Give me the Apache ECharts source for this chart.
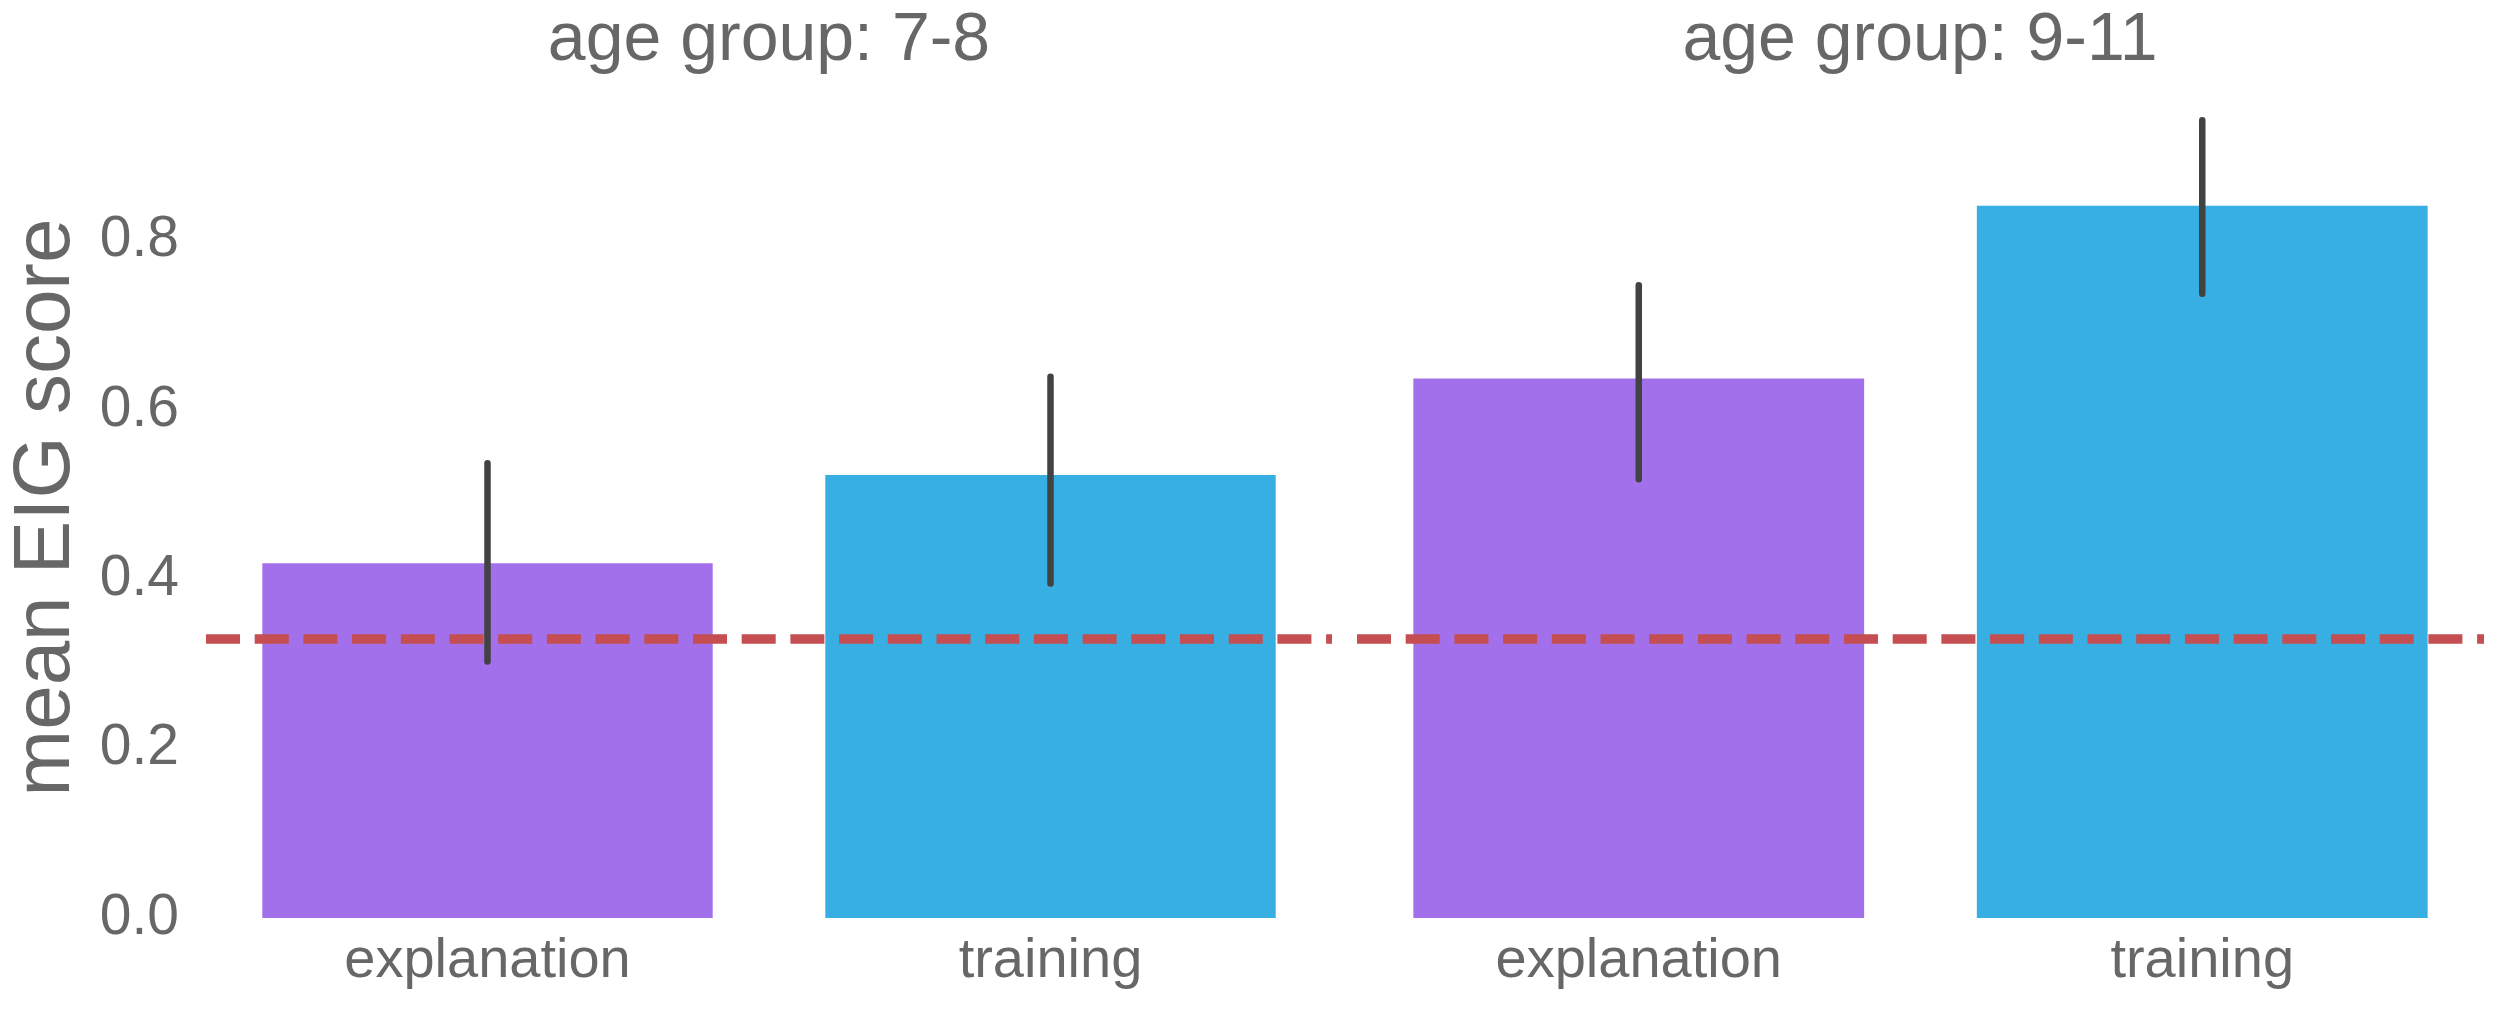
<!DOCTYPE html>
<html>
<head>
<meta charset="utf-8">
<script src="https://cdn.jsdelivr.net/npm/echarts@6/dist/echarts.min.js"></script>
<style>
  html, body { margin: 0; padding: 0; background: #ffffff; }
  #chart { width: 2500px; height: 1011px; }
</style>
</head>
<body>
<div id="chart"></div>
<script>
// ---- data ----
const categories = ["explanation", "training"];
const groupTitles = ["age group: 7-8", "age group: 9-11"];
const means_7_8 = [0.419, 0.523];
const means_9_11 = [0.637, 0.841];
const ciLow_7_8 = [0.303, 0.395];
const ciHigh_7_8 = [0.537, 0.639];
const ciLow_9_11 = [0.518, 0.737];
const ciHigh_9_11 = [0.747, 0.942];
const chanceLevel = 1 / 3;
const yTicks = [0, 0.2, 0.4, 0.6, 0.8];
const yMax = 0.9694;

// ---- styles ----
const barColors = ["#A370EB", "#37AFE2"];
const textColor = "#676767";
const fontFamily = "'Liberation Sans', Arial, sans-serif";

const chart = echarts.init(document.getElementById('chart'), null, { renderer: 'canvas' });

const grids = [
  { left: 206, width: 1126, top: 97, height: 821 },
  { left: 1357, width: 1127, top: 97, height: 821 }
];

function xAxisFor(i) {
  return {
    type: 'category', gridIndex: i, data: categories,
    axisLine: { show: false }, axisTick: { show: false },
    axisLabel: { fontSize: 56, color: textColor, fontFamily: fontFamily, margin: 16 },
    splitLine: { show: false }
  };
}
function yAxisFor(i) {
  return {
    type: 'value', gridIndex: i, min: 0, max: yMax, interval: 0.2,
    axisLine: { show: false }, axisTick: { show: false }, splitLine: { show: false },
    axisLabel: {
      show: i === 0, fontSize: 57, color: textColor, fontFamily: fontFamily, margin: 27,
      formatter: function (v) {
        return yTicks.some(t => Math.abs(t - v) < 1e-9) ? v.toFixed(1) : '';
      }
    },
    name: i === 0 ? 'mean EIG score' : '',
    nameLocation: 'middle', nameGap: 119,
    nameTextStyle: { fontSize: 80, color: textColor, fontFamily: fontFamily }
  };
}

function barSeries(i, means) {
  return {
    type: 'bar', xAxisIndex: i, yAxisIndex: i, barWidth: '80%',
    data: means.map((v, k) => ({ value: v, itemStyle: { color: barColors[k] } })),
    z: 2,
    markLine: {
      silent: true, symbol: 'none', z: 5,
      label: { show: false },
      lineStyle: { color: '#C44E52', width: 9.5, type: [34, 14.7], cap: 'butt' },
      data: [{ yAxis: chanceLevel }]
    }
  };
}
function errSeries(i, lows, highs) {
  return {
    type: 'custom', xAxisIndex: i, yAxisIndex: i, z: 10,
    data: lows.map((lo, k) => [k, lo, highs[k]]),
    encode: { x: 0, y: [1, 2] },
    renderItem: function (params, api) {
      const p1 = api.coord([api.value(0), api.value(1)]);
      const p2 = api.coord([api.value(0), api.value(2)]);
      return {
        type: 'line',
        shape: { x1: p1[0], y1: p1[1], x2: p2[0], y2: p2[1] },
        style: { stroke: '#424242', lineWidth: 6.5, lineCap: 'round' }
      };
    }
  };
}

chart.setOption({
  backgroundColor: '#ffffff',
  animation: false,
  title: [
    { text: groupTitles[0], left: 769, top: 7, textAlign: 'center', padding: 0,
      textStyle: { fontSize: 68, fontWeight: 'normal', color: textColor, fontFamily: fontFamily } },
    { text: groupTitles[1], left: 1920, top: 7, textAlign: 'center', padding: 0,
      textStyle: { fontSize: 68, fontWeight: 'normal', color: textColor, fontFamily: fontFamily } }
  ],
  grid: grids,
  xAxis: [xAxisFor(0), xAxisFor(1)],
  yAxis: [yAxisFor(0), yAxisFor(1)],
  series: [
    barSeries(0, means_7_8),
    barSeries(1, means_9_11),
    errSeries(0, ciLow_7_8, ciHigh_7_8),
    errSeries(1, ciLow_9_11, ciHigh_9_11)
  ]
});
</script>
</body>
</html>
